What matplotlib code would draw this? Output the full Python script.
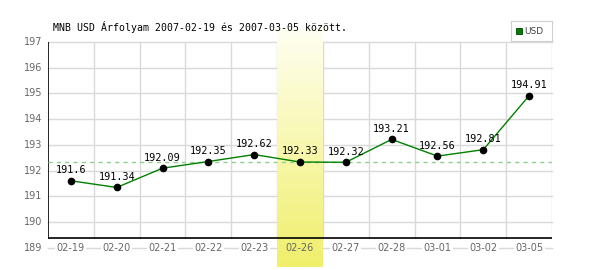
import numpy as np
import matplotlib
matplotlib.use("Agg")
import matplotlib.pyplot as plt
from matplotlib.colors import LinearSegmentedColormap

dates = ["02-19", "02-20", "02-21", "02-22", "02-23", "02-26",
         "02-27", "02-28", "03-01", "03-02", "03-05"]
rates = [191.6, 191.34, 192.09, 192.35, 192.62, 192.33,
         192.32, 193.21, 192.56, 192.81, 194.91]
labels = ["191.6", "191.34", "192.09", "192.35", "192.62", "192.33",
          "192.32", "193.21", "192.56", "192.81", "194.91"]
yticks = [189, 190, 191, 192, 193, 194, 195, 196, 197]
sel = 5  # highlighted day (02-26)
title = "MNB USD Árfolyam 2007-02-19 és 2007-03-05 között."

W, H = 600, 270
fig = plt.figure(figsize=(W / 100, H / 100), dpi=100)
# axes: x 48..552 px, y 42..267 px from top
ax = fig.add_axes([48 / W, (H - 267) / H, 504 / W, 225 / H])
n = len(dates)
xlo, xhi = -0.5, n - 0.5
ytop = 197
ybot = 197 - 225 / 25.7
for s in ax.spines.values():
    s.set_visible(False)
ax.set_xticks([])
ax.set_yticks([])
ax.patch.set_alpha(0)

yaxis = 197 - 196 / 25.7  # black x-axis line
grid_c = "#d9d9d9"

# grid
for v in yticks:
    ax.plot([xlo, xhi], [v, v], color=grid_c, lw=1, zorder=1, clip_on=False)
for i in range(n):
    ax.plot([i + 0.5, i + 0.5], [yaxis, ytop], color=grid_c, lw=1, zorder=1)

# highlighted band with gradient
grad = np.linspace(0, 1, 256).reshape(-1, 1)
cmap = LinearSegmentedColormap.from_list("band", ["#f0ef6a", "#fffff2"])
band_top = ytop + 13 / 25.7
ax.imshow(grad, cmap=cmap, aspect="auto", origin="lower",
          extent=[sel - 0.5, sel + 0.5, ybot, band_top],
          zorder=2, clip_on=False)
ax.set_xlim(xlo, xhi)
ax.set_ylim(ybot, ytop)

# axis lines
ax.plot([xlo, xlo], [yaxis, ytop], color="black", lw=1.2, zorder=3)
ax.plot([xlo, xhi], [yaxis, yaxis], color="black", lw=1.2, zorder=3)

# reference line at selected value
ax.plot([xlo, xhi], [rates[sel], rates[sel]], color="#8fd08f", lw=1,
        ls=(0, (3, 3)), zorder=3)

x = np.arange(n)
ax.plot(x, rates, color="#008000", lw=1, zorder=4)
ax.plot(x, rates, "o", color="black", ms=4.5, zorder=5)
for i, (v, t) in enumerate(zip(rates, labels)):
    ax.annotate(t, (i, v), xytext=(0, 4), textcoords="offset points",
                ha="center", va="bottom", fontsize=7.3,
                family="DejaVu Sans Mono", color="black", zorder=6)

# tick labels
for v in yticks:
    ax.text(xlo - 0.13, v, str(v), ha="right", va="center", fontsize=7,
            color="#666666")
for i, d in enumerate(dates):
    bb = None if i == sel else dict(facecolor="white", edgecolor="none", pad=1)
    ax.text(i, 189, d, ha="center", va="center", fontsize=7,
            color="#666666", bbox=bb, zorder=3)

fig.text(53 / W, 1 - 27 / H, title, ha="left", va="center", fontsize=7.15,
         family="DejaVu Sans Mono")

# legend box
lax = fig.add_axes([511 / W, 1 - 41 / H, 41 / W, 20 / H])
lax.set_xlim(0, 41)
lax.set_ylim(0, 20)
lax.set_xticks([])
lax.set_yticks([])
for s in lax.spines.values():
    s.set_color("#d0d0d0")
lax.add_patch(plt.Rectangle((5, 7), 6, 6, facecolor="#008000",
                            edgecolor="#004000", lw=0.6))
lax.text(13, 10, "USD", ha="left", va="center", fontsize=6.5, color="#444444")

fig.savefig("out.png", dpi=100)
